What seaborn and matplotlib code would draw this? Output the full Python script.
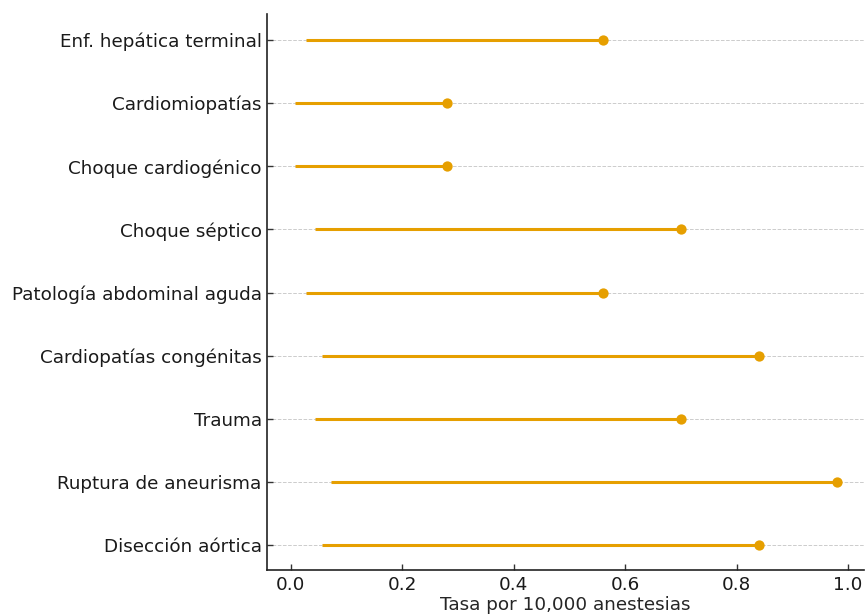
import numpy as np
import pandas as pd
import seaborn as sns
import matplotlib.pyplot as plt

# categories bottom -> top
categorias = ['Disección aórtica', 'Ruptura de aneurisma', 'Trauma',
              'Cardiopatías congénitas', 'Patología abdominal aguda',
              'Choque séptico', 'Choque cardiogénico', 'Cardiomiopatías',
              'Enf. hepática terminal']
inicio = [0.056, 0.073, 0.043, 0.056, 0.027, 0.043, 0.007, 0.007, 0.027]
tasa = [0.84, 0.98, 0.70, 0.84, 0.56, 0.70, 0.28, 0.28, 0.56]
xticks = [0.0, 0.2, 0.4, 0.6, 0.8, 1.0]

df = pd.DataFrame({'cat': categorias, 'ini': inicio, 'tasa': tasa})
df['pos'] = np.arange(len(df))

sns.set_style('ticks')
plt.rcParams['font.family'] = ['DejaVu Sans']

color = '#E69F00'
fig = plt.figure(figsize=(8.65, 6.16), dpi=100)
ax = fig.add_axes([0.309, 0.0747, 0.690, 0.9026])

ax.hlines(df['pos'], df['ini'], df['tasa'], color=color, linewidth=2.2, zorder=2)
sns.scatterplot(data=df, x='tasa', y='pos', color=color, s=55, edgecolor=color,
                linewidth=0, ax=ax, zorder=3)

ax.set_yticks(df['pos'])
ax.set_yticklabels(df['cat'], fontsize=13.2)
ax.set_xticks(xticks)
ax.set_xticklabels([f'{v:.1f}' for v in xticks], fontsize=13.2)
ax.set_xlim(-0.042, 1.029)
ax.set_ylim(-0.39, 8.41)
ax.set_xlabel('Tasa por 10,000 anestesias', fontsize=13.2, labelpad=2)
ax.set_ylabel('')
ax.grid(axis='y', linestyle='--', color='#cccccc', linewidth=0.7, zorder=0)
ax.set_axisbelow(True)
ax.tick_params(direction='in', length=4, width=1, colors='#333333',
               labelcolor='#1a1a1a', pad=4)
sns.despine(ax=ax)
for s in ['left', 'bottom']:
    ax.spines[s].set_color('#222222')
    ax.spines[s].set_linewidth(1.2)

fig.savefig('out.png', dpi=100)
